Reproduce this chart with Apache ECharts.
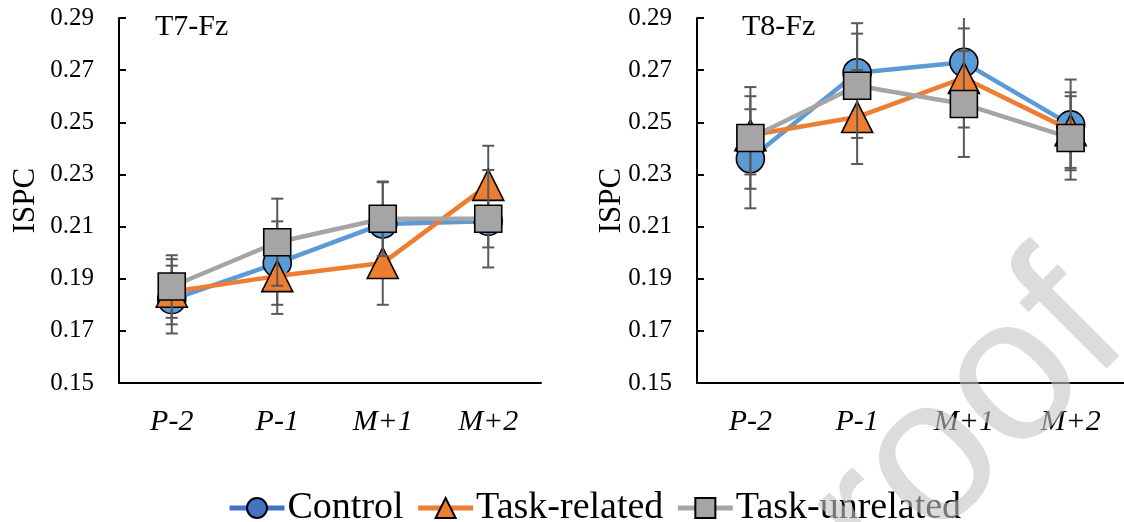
<!DOCTYPE html>
<html>
<head>
<meta charset="utf-8">
<script src="https://cdn.jsdelivr.net/npm/echarts@6/dist/echarts.min.js"></script>
<style>
  html, body { margin: 0; padding: 0; background: #fff; }
  #chart { width: 1124px; height: 522px; }
</style>
</head>
<body>
<div id="chart"></div>
<script>
var categories = ['P-2', 'P-1', 'M+1', 'M+2']
var yTicks = [0.15, 0.17, 0.19, 0.21, 0.23, 0.25, 0.27, 0.29]
var seriesNames = ['Control', 'Task-related', 'Task-unrelated']

// T7-Fz
var t7Control = [0.182, 0.196, 0.211, 0.212]
var t7ControlErr = [0.013, 0.016, 0.016, 0.010]
var t7Related = [0.185, 0.191, 0.196, 0.226]
var t7RelatedErr = [0.0125, 0.0145, 0.016, 0.015]
var t7Unrelated = [0.187, 0.204, 0.213, 0.213]
var t7UnrelatedErr = [0.012, 0.0167, 0.0143, 0.0187]

// T8-Fz
var t8Control = [0.236, 0.269, 0.273, 0.249]
var t8ControlErr = [0.019, 0.019, 0.018, 0.0174]
var t8Related = [0.245, 0.252, 0.267, 0.247]
var t8RelatedErr = [0.015, 0.018, 0.019, 0.0145]
var t8Unrelated = [0.244, 0.264, 0.257, 0.244]
var t8UnrelatedErr = [0.0195, 0.020, 0.0203, 0.016]

var serif = '"Liberation Serif", "Times New Roman", serif'
var lineColors = ['#5B9BD5', '#ED7D31', '#A5A5A5']
var symbols = ['circle', 'triangle', 'rect']
var symbolSizes = [28, 31, 27]

function errData (mean, err) {
  return mean.map(function (v, i) { return [i, v - err[i], v + err[i]] })
}

function renderErr (params, api) {
  var lo = api.coord([api.value(0), api.value(1)])
  var hi = api.coord([api.value(0), api.value(2)])
  var w = 6
  var style = { stroke: '#595959', lineWidth: 2 }
  return {
    type: 'group',
    children: [
      { type: 'line', shape: { x1: lo[0], y1: lo[1], x2: hi[0], y2: hi[1] }, style: style },
      { type: 'line', shape: { x1: lo[0] - w, y1: lo[1], x2: lo[0] + w, y2: lo[1] }, style: style },
      { type: 'line', shape: { x1: hi[0] - w, y1: hi[1], x2: hi[0] + w, y2: hi[1] }, style: style }
    ]
  }
}

function xAxis (idx) {
  return {
    gridIndex: idx,
    type: 'category',
    data: categories,
    boundaryGap: true,
    axisLine: { lineStyle: { color: '#000', width: 2 } },
    axisTick: { inside: true, length: 7, lineStyle: { color: '#000', width: 2 } },
    axisLabel: { margin: 24, fontSize: 30, fontStyle: 'italic', fontFamily: serif, color: '#000' },
    splitLine: { show: false }
  }
}

function yAxis (idx, gap) {
  return {
    gridIndex: idx,
    type: 'value',
    min: 0.15,
    max: 0.29,
    name: 'ISPC',
    nameLocation: 'middle',
    nameGap: gap,
    nameMoveOverlap: false,
    nameTextStyle: { fontSize: 31, fontFamily: serif, color: '#000' },
    axisLine: { show: true, lineStyle: { color: '#000', width: 2 } },
    axisTick: { show: true, inside: true, length: 7, customValues: yTicks, lineStyle: { color: '#000', width: 2 } },
    axisLabel: {
      margin: 25, fontSize: 25, fontFamily: serif, color: '#000',
      customValues: yTicks,
      formatter: function (v) { return v.toFixed(2) }
    },
    splitLine: { show: false }
  }
}

var groups = [
  { means: [t7Control, t7Related, t7Unrelated], errs: [t7ControlErr, t7RelatedErr, t7UnrelatedErr] },
  { means: [t8Control, t8Related, t8Unrelated], errs: [t8ControlErr, t8RelatedErr, t8UnrelatedErr] }
]

var series = []
groups.forEach(function (g, gi) {
  g.means.forEach(function (m, si) {
    series.push({
      type: 'custom',
      xAxisIndex: gi,
      yAxisIndex: gi,
      renderItem: renderErr,
      encode: { x: 0, y: [1, 2] },
      data: errData(m, g.errs[si]),
      clip: true,
      silent: true,
      z: 2 + si * 2
    })
    series.push({
      name: seriesNames[si],
      type: 'line',
      xAxisIndex: gi,
      yAxisIndex: gi,
      data: m,
      symbol: symbols[si],
      symbolSize: symbolSizes[si],
      lineStyle: { color: lineColors[si], width: 4.5 },
      itemStyle: { color: lineColors[si], borderColor: '#000', borderWidth: 1.6 },
      emphasis: { disabled: true },
      z: 3 + si * 2
    })
  })
})

var chart = echarts.init(document.getElementById('chart'))
chart.setOption({
  animation: false,
  textStyle: { fontFamily: serif },
  title: [
    { text: 'T7-Fz', left: 150, top: 7, textStyle: { fontSize: 30, fontWeight: 'normal', fontFamily: serif, color: '#000' } },
    { text: 'T8-Fz', left: 737, top: 7, textStyle: { fontSize: 30, fontWeight: 'normal', fontFamily: serif, color: '#000' } }
  ],
  grid: [
    { left: 119, top: 18, width: 422, height: 365, containLabel: false },
    { left: 697, top: 18, width: 432, height: 365, containLabel: false }
  ],
  xAxis: [xAxis(0), xAxis(1)],
  yAxis: [yAxis(0, 78), yAxis(1, 70)],
  legend: {
    left: 222,
    top: 484,
    itemWidth: 55,
    itemHeight: 25,
    itemGap: 12,
    textStyle: { fontSize: 38, fontFamily: serif, color: '#000', padding: [0, 0, 0, -2] },
    data: [
      { name: 'Control', itemStyle: { color: '#4472C4' }, lineStyle: { color: '#4472C4', width: 5 } },
      { name: 'Task-related', lineStyle: { width: 5 } },
      { name: 'Task-unrelated', lineStyle: { width: 5 } }
    ]
  },
  graphic: [{
    type: 'text',
    x: 1094,
    y: 301,
    rotation: Math.PI / 4,
    z: 100,
    silent: true,
    style: {
      text: 'Journal Pre-proof',
      font: '205px "Liberation Sans", Arial, sans-serif',
      fill: 'rgba(197,197,197,0.6)',
      textAlign: 'right',
      textVerticalAlign: 'middle'
    }
  }],
  series: series
})
</script>
</body>
</html>
